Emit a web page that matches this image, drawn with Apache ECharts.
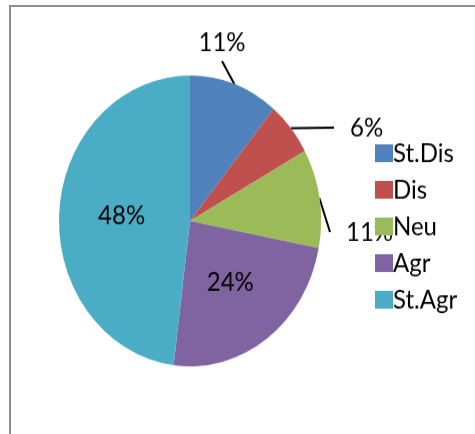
<!DOCTYPE html>
<html>
<head>
<meta charset="utf-8">
<script src="https://cdn.jsdelivr.net/npm/echarts@6/dist/echarts.min.js"></script>
<style>
html, body { margin: 0; padding: 0; background: #fff; overflow: hidden; }
#frame {
  position: absolute; left: 9px; top: 5px; width: 600px; height: 600px;
  border: 2px solid #8e8e8e; box-sizing: border-box;
}
/* the source picture is stretched vertically, so stretch the chart the same way */
#chart {
  position: absolute; left: 0; top: 0; width: 475px; height: 391px;
  transform: scaleY(1.11); transform-origin: 0 0;
}
</style>
</head>
<body>
<div id="frame"></div>
<div id="chart"></div>
<script>
const categories = ['St.Dis', 'Dis', 'Neu', 'Agr', 'St.Agr']
const percents = [11, 6, 11, 24, 48]
const colors = ['#4F81BD', '#C0504D', '#9BBB59', '#8064A2', '#4BACC6']

// where each label sits: small slices outside with a leader line
const labelPlace = ['outside', 'outside', 'outside', 'inside', 'inside']
const outsideSpots = {
  0: { x: 222, y: 38, align: 'center' },
  1: { x: 334, y: 115, align: 'left' },
  2: { x: 330, y: 209, align: 'left' }
}

const font = 'Lato, "Noto Sans", sans-serif'
const chart = echarts.init(document.getElementById('chart'), null, { renderer: 'canvas' })

chart.setOption({
  animation: false,
  color: colors,
  legend: {
    orient: 'vertical',
    left: 370,
    top: 121,
    itemWidth: 18,
    itemHeight: 16,
    itemGap: 9,
    icon: 'rect',
    textStyle: { fontFamily: font, fontSize: 24, color: '#000', padding: [0, 0, 0, -5] },
    data: categories
  },
  series: [{
    type: 'pie',
    center: [190, 199],
    radius: 131,
    startAngle: 90,
    clockwise: true,
    label: {
      fontFamily: font,
      fontSize: 24,
      color: '#000',
      formatter: p => p.value + '%'
    },
    labelLine: {
      length: 15,
      length2: 0,
      lineStyle: { color: '#000', width: 2 }
    },
    labelLayout: p => {
      const s = outsideSpots[p.dataIndex]
      if (!s) return {}
      return { x: s.x, y: s.y, align: s.align, verticalAlign: 'middle' }
    },
    data: categories.map((name, i) => ({
      name,
      value: percents[i],
      label: labelPlace[i] === 'outside'
        ? {
            position: 'outside',
            backgroundColor: 'rgba(0,0,0,0)',
            padding: i === 0 ? [0, 0, 10, 0] : [0, 0, 0, 16]
          }
        : { position: 'inside' },
      labelLine: { show: labelPlace[i] === 'outside' }
    }))
  }]
})
</script>
</body>
</html>
